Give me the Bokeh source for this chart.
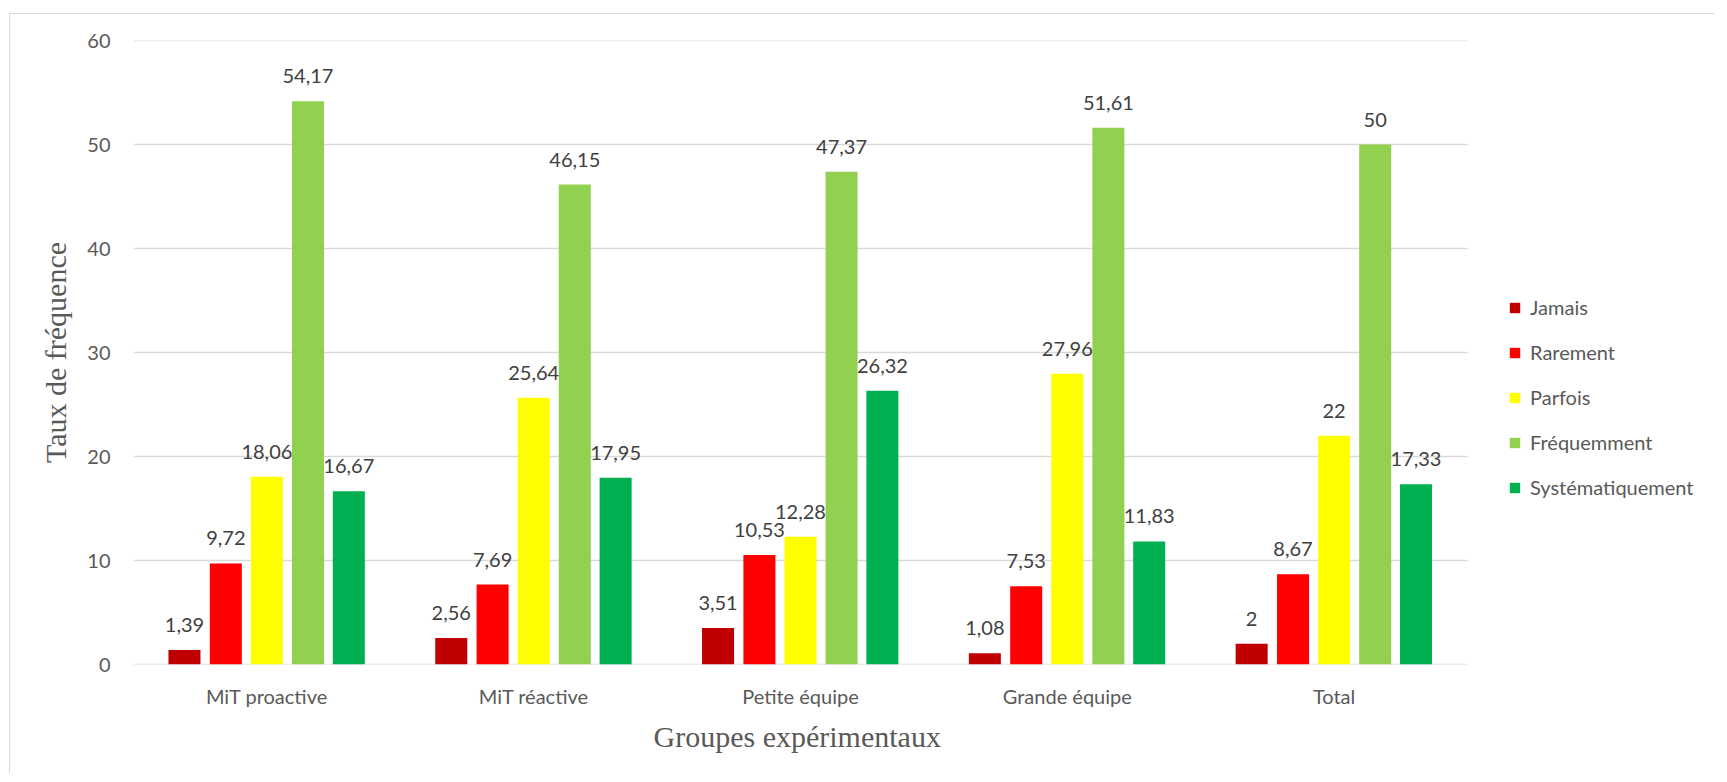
from bokeh.plotting import figure
from bokeh.models import ColumnDataSource, LabelSet, Legend, LegendItem, FixedTicker, Range1d, Title
from bokeh.core.properties import value
from bokeh.embed import file_html
from bokeh.resources import INLINE

groups = ["MiT proactive", "MiT réactive", "Petite équipe", "Grande équipe", "Total"]
series = ["Jamais", "Rarement", "Parfois", "Fréquemment", "Systématiquement"]
jamais = [1.39, 2.56, 3.51, 1.08, 2]
rarement = [9.72, 7.69, 10.53, 7.53, 8.67]
parfois = [18.06, 25.64, 12.28, 27.96, 22]
frequemment = [54.17, 46.15, 47.37, 51.61, 50]
systematiquement = [16.67, 17.95, 26.32, 11.83, 17.33]
y_ticks = [0, 10, 20, 30, 40, 50, 60]

colors = ["#C00000", "#FF0000", "#FFFF00", "#92D050", "#00B050"]
values = [jamais, rarement, parfois, frequemment, systematiquement]
offsets = [-0.309, -0.154, 0.0, 0.154, 0.307]

FONT = "Lato"
SERIF = "Liberation Serif"

W, ML, MR = 1705, 123, 10
BAND = 1334  # pixel width of the category band
frame_w = W - ML - MR
n = len(groups)
x_end = n * frame_w / BAND  # rest of the frame holds the legend

p = figure(x_range=Range1d(0, x_end), y_range=Range1d(0, 60),
           width=W, height=760, output_backend="svg", toolbar_location=None,
           min_border_left=ML, min_border_right=MR, min_border_top=26, min_border_bottom=110)
p.margin = (13, 0, 0, 9)
p.styles = {"border-top": "1.5px solid #D9D9D9", "border-left": "1.5px solid #D9D9D9"}
p.outline_line_color = None
p.background_fill_color = "white"
p.border_fill_color = "white"

# horizontal gridlines restricted to the category band
p.segment(x0=[0] * len(y_ticks), x1=[n] * len(y_ticks), y0=y_ticks, y1=y_ticks,
          line_color="#D9D9D9", line_width=1.3)

centers = [i + 0.5 for i in range(n)]
items = []
for name, vals, col, off in zip(series, values, colors, offsets):
    labels = [f"{v:g}".replace(".", ",") for v in vals]
    src = ColumnDataSource(dict(x=[c + off for c in centers], v=vals, lab=labels))
    r = p.vbar(x="x", top="v", width=0.12, source=src, fill_color=col, line_color=None)
    items.append(LegendItem(label=name, renderers=[r]))
    ls = LabelSet(x="x", y="v", text="lab", source=src,
                  text_align="center", text_baseline="alphabetic", y_offset=18,
                  text_font=value(FONT), text_font_size=value("20px"), text_color=value("#404040"))
    p.add_layout(ls)

p.xaxis.ticker = FixedTicker(ticks=centers)
p.xaxis.major_label_overrides = {c: g for c, g in zip(centers, groups)}
p.yaxis.ticker = FixedTicker(ticks=y_ticks)
p.xgrid.grid_line_color = None
p.ygrid.grid_line_color = None

for ax in (p.xaxis[0], p.yaxis[0]):
    ax.axis_line_color = None
    ax.major_tick_line_color = None
    ax.minor_tick_line_color = None
    ax.major_tick_out = 0
    ax.major_tick_in = 0
    ax.minor_tick_out = 0
    ax.major_label_text_font = FONT
    ax.major_label_text_font_size = "20px"
    ax.major_label_text_color = "#595959"
    ax.axis_label_text_font = SERIF
    ax.axis_label_text_font_size = "30px"
    ax.axis_label_text_font_style = "normal"
    ax.axis_label_text_color = "#595959"

p.yaxis.axis_label = "Taux de fréquence"
p.yaxis.major_label_standoff = 23
p.yaxis.axis_label_standoff = 12
p.xaxis.major_label_standoff = 19

# x-axis title centred under the category band (not under the whole frame)
xtitle = Title(text="Groupes expérimentaux", align="left", offset=520, standoff=14,
               text_font=SERIF, text_font_size="30px", text_font_style="normal",
               text_color="#595959")
p.add_layout(xtitle, "below")

legend = Legend(items=items, location=(1375, 165), orientation="vertical",
                glyph_width=13, glyph_height=13, label_height=20, spacing=21,
                label_standoff=9, padding=0, margin=0,
                label_text_font=FONT, label_text_font_size="20px", label_text_color="#595959",
                border_line_color=None, background_fill_alpha=0)
p.add_layout(legend, "center")

open("out.html", "w").write(file_html(p, INLINE))
